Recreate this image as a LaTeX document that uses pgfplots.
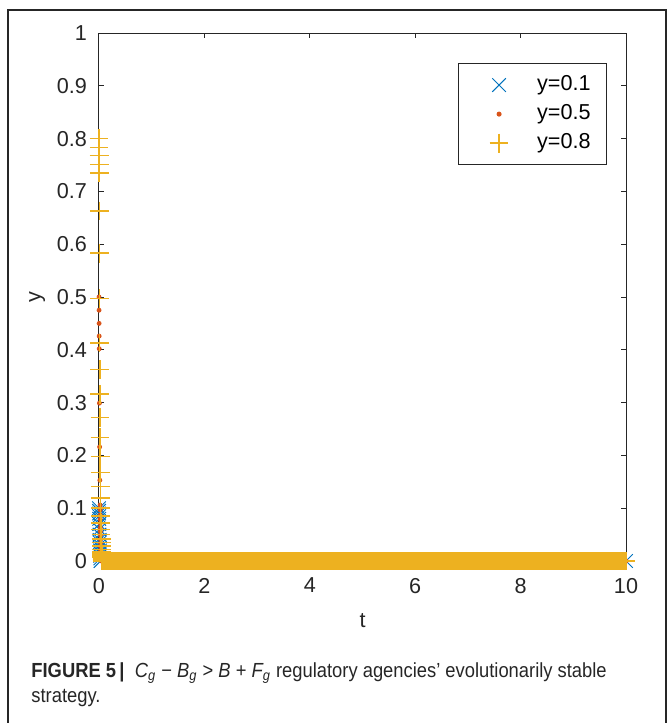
\documentclass[border=0pt]{standalone}
\usepackage{fontspec}
\setmainfont{Liberation Sans}
\newfontfamily\capfont[FakeStretch=0.9]{Liberation Sans}
\usepackage{pgfplots}
\pgfplotsset{compat=1.18}
\definecolor{mblue}{RGB}{0,114,189}
\definecolor{mred}{RGB}{217,83,25}
\definecolor{myellow}{RGB}{237,177,32}
\definecolor{maxis}{RGB}{38,38,38}
\begin{document}
\begin{tikzpicture}
\useasboundingbox (0,0) rectangle (334pt,-361.5pt);
\draw[line width=0.6pt, black!85] (4pt,-361.5pt) -- (4pt,-5pt) -- (333pt,-5pt) -- (333pt,-361.5pt);
\begin{axis}[
  at={(49.5pt,-280.5pt)}, anchor=south west,
  width=263.5pt, height=264pt, scale only axis,
  xmin=0, xmax=10, ymin=0, ymax=1,
  xtick={0,2,4,6,8,10},
  ytick={0,0.1,0.2,0.3,0.4,0.5,0.6,0.7,0.8,0.9,1},
  yticklabels={0,0.1,0.2,0.3,0.4,0.5,0.6,0.7,0.8,0.9,1},
  tick align=inside, major tick length=2.5pt,
  axis line style={maxis, line width=0.5pt},
  every tick/.style={maxis, line width=0.5pt},
  tick label style={font=\fontsize{10.8}{12}\selectfont, text=black!85},
  /pgf/number format/assume math mode=true,
  xticklabel style={yshift=-5pt},
  yticklabel style={xshift=-2.5pt},
  xlabel={t}, ylabel={y},
  xlabel style={yshift=-3pt},
  ylabel style={yshift=-1pt},
  label style={font=\fontsize{10.8}{12}\selectfont, text=black!85},
  clip=false,
  legend cell align=left,
  legend image code/.code={\path[draw=none, fill=none] (-14.5pt,0pt) -- (17pt,0pt); \draw[#1] plot coordinates {(0pt,0pt)};},
  legend style={at={(0.964,0.943)}, anchor=north east, draw=maxis, line width=0.5pt,
    font=\fontsize{10.8}{12}\selectfont, inner xsep=6pt, inner ysep=3.5pt, row sep=0pt,
    nodes={text height=8pt, text depth=2.5pt, inner ysep=2pt}},
]
\addplot[only marks, mark=x, mark size=4.8pt, color=mblue, mark options={line width=0.5pt}] coordinates {
(0,0.1)(0.001,0.095)(0.002,0.09)(0.003,0.085)(0.004,0.08)(0.006,0.07)(0.008,0.06)(0.010,0.05)(0.012,0.04)(0.014,0.035)(0.016,0.03)(0.018,0.025)(0.02,0.02)(0.022,0.015)(0.024,0.01)(0.026,0.005)(0.03,0)
(0.5,0)(1,0)(1.5,0)(2,0)(2.5,0)(3,0)(3.5,0)(4,0)(4.5,0)(5,0)(5.5,0)(6,0)(6.5,0)(7,0)(7.5,0)(8,0)(8.5,0)(9,0)(9.5,0)(10,0)};
\addlegendentry{y=0.1}
\addplot[only marks, mark=*, mark size=1pt, color=mred, mark options={draw=mred, fill=mred}] coordinates {
(0,0.5)(0.001,0.475)(0.002,0.45)(0.003,0.426)(0.004,0.402)(0.008,0.299)(0.012,0.216)(0.016,0.153)(0.020,0.106)(0.021,0.097)(0.022,0.087)(0.023,0.079)(0.024,0.071)(0.025,0.063)(0.026,0.056)(0.027,0.049)(0.028,0.041)(0.029,0.034)(0.030,0.027)(0.032,0.020)(0.034,0.014)(0.036,0.009)(0.038,0.005)(0.040,0.002)(0.045,0)
(0.5,0)(1,0)(1.5,0)(2,0)(2.5,0)(3,0)(3.5,0)(4,0)(4.5,0)(5,0)(5.5,0)(6,0)(6.5,0)(7,0)(7.5,0)(8,0)(8.5,0)(9,0)(9.5,0)(10,0)};
\addlegendentry{y=0.5}
\addplot[only marks, mark=+, mark size=4.7pt, color=myellow, mark options={line width=0.8pt}] coordinates {
(0,0.8)(0.001,0.783)(0.002,0.768)(0.003,0.751)(0.004,0.735)(0.006,0.663)(0.008,0.583)(0.010,0.497)(0.012,0.413)(0.014,0.363)(0.016,0.316)(0.018,0.272)(0.020,0.234)(0.022,0.198)(0.024,0.168)(0.026,0.141)(0.028,0.119)(0.030,0.100)(0.032,0.085)(0.034,0.072)(0.036,0.060)(0.038,0.050)(0.040,0.042)(0.042,0.035)(0.044,0.028)(0.046,0.022)(0.048,0.017)(0.050,0.013)(0.052,0.010)(0.054,0.007)(0.056,0.005)(0.058,0.003)(0.060,0.002)(0.062,0.001)(0.065,0)};
\addlegendentry{y=0.8}
\addplot[forget plot, only marks, mark=+, mark size=4.5pt, color=myellow, mark options={line width=1.35pt}] coordinates {
(0.1,0)(0.15,0)(0.2,0)(0.25,0)(0.3,0)(0.35,0)(0.4,0)(0.45,0)(0.5,0)(0.55,0)(0.6,0)(0.65,0)(0.7,0)(0.75,0)(0.8,0)(0.85,0)(0.9,0)(0.95,0)
(1,0)(1.05,0)(1.1,0)(1.15,0)(1.2,0)(1.25,0)(1.3,0)(1.35,0)(1.4,0)(1.45,0)(1.5,0)(1.55,0)(1.6,0)(1.65,0)(1.7,0)(1.75,0)(1.8,0)(1.85,0)(1.9,0)(1.95,0)
(2,0)(2.05,0)(2.1,0)(2.15,0)(2.2,0)(2.25,0)(2.3,0)(2.35,0)(2.4,0)(2.45,0)(2.5,0)(2.55,0)(2.6,0)(2.65,0)(2.7,0)(2.75,0)(2.8,0)(2.85,0)(2.9,0)(2.95,0)
(3,0)(3.05,0)(3.1,0)(3.15,0)(3.2,0)(3.25,0)(3.3,0)(3.35,0)(3.4,0)(3.45,0)(3.5,0)(3.55,0)(3.6,0)(3.65,0)(3.7,0)(3.75,0)(3.8,0)(3.85,0)(3.9,0)(3.95,0)
(4,0)(4.05,0)(4.1,0)(4.15,0)(4.2,0)(4.25,0)(4.3,0)(4.35,0)(4.4,0)(4.45,0)(4.5,0)(4.55,0)(4.6,0)(4.65,0)(4.7,0)(4.75,0)(4.8,0)(4.85,0)(4.9,0)(4.95,0)
(5,0)(5.05,0)(5.1,0)(5.15,0)(5.2,0)(5.25,0)(5.3,0)(5.35,0)(5.4,0)(5.45,0)(5.5,0)(5.55,0)(5.6,0)(5.65,0)(5.7,0)(5.75,0)(5.8,0)(5.85,0)(5.9,0)(5.95,0)
(6,0)(6.05,0)(6.1,0)(6.15,0)(6.2,0)(6.25,0)(6.3,0)(6.35,0)(6.4,0)(6.45,0)(6.5,0)(6.55,0)(6.6,0)(6.65,0)(6.7,0)(6.75,0)(6.8,0)(6.85,0)(6.9,0)(6.95,0)
(7,0)(7.05,0)(7.1,0)(7.15,0)(7.2,0)(7.25,0)(7.3,0)(7.35,0)(7.4,0)(7.45,0)(7.5,0)(7.55,0)(7.6,0)(7.65,0)(7.7,0)(7.75,0)(7.8,0)(7.85,0)(7.9,0)(7.95,0)
(8,0)(8.05,0)(8.1,0)(8.15,0)(8.2,0)(8.25,0)(8.3,0)(8.35,0)(8.4,0)(8.45,0)(8.5,0)(8.55,0)(8.6,0)(8.65,0)(8.7,0)(8.75,0)(8.8,0)(8.85,0)(8.9,0)(8.95,0)
(9,0)(9.05,0)(9.1,0)(9.15,0)(9.2,0)(9.25,0)(9.3,0)(9.35,0)(9.4,0)(9.45,0)(9.5,0)(9.55,0)(9.6,0)(9.65,0)(9.7,0)(9.75,0)(9.8,0)(9.85,0)(9.9,0)(9.95,0)
(10,0)};
\end{axis}
\node[anchor=base west, inner sep=0pt, font=\capfont\fontsize{10.2}{12}\selectfont, text=black!85] at (15.5pt,-338.5pt)
 {\textbf{FIGURE 5}\,\textbf{|}\ \ {\itshape C}\textsubscript{\itshape g} − {\itshape B}\textsubscript{\itshape g} > {\itshape B} + {\itshape F}\textsubscript{\itshape g} regulatory agencies’ evolutionarily stable};
\node[anchor=base west, inner sep=0pt, font=\capfont\fontsize{10.2}{12}\selectfont, text=black!85] at (15.5pt,-351pt)
 {strategy.};
\end{tikzpicture}
\end{document}
